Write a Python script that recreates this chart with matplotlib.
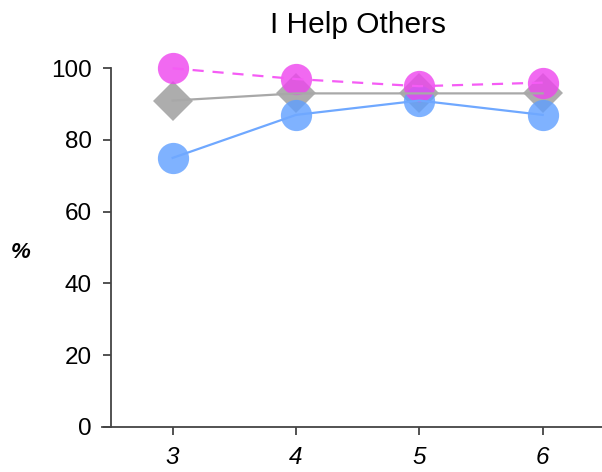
import matplotlib
matplotlib.use("Agg")
import matplotlib.pyplot as plt

grades = [3, 4, 5, 6]
pink_vals = [100, 97, 95, 96]
gray_vals = [91, 93, 93, 93]
blue_vals = [75, 87, 91, 87]
x_labels = ["3", "4", "5", "6"]
y_ticks = [0, 20, 40, 60, 80, 100]
title = "I Help Others"

plt.rcParams['font.family'] = ['Liberation Sans', 'DejaVu Sans']

W, H = 602, 472
fig = plt.figure(figsize=(W / 100, H / 100), dpi=100)
left, right = 102, 602
bottom, top = 426.7, 68.3
ax = fig.add_axes([left / W, 1 - bottom / H, (right - left) / W, (bottom - top) / H])

ax.set_xlim(2.427, 6.481)
ax.set_ylim(0, 100)

# markers
ax.plot(grades, gray_vals, linestyle='none', marker='D', markersize=20.5,
        color='#999999', alpha=0.8, markeredgewidth=0, clip_on=False, zorder=2)
ax.plot(grades, blue_vals, linestyle='none', marker='o', markersize=22.5,
        color='#5f9fff', alpha=0.8, markeredgewidth=0, clip_on=False, zorder=3)
ax.plot(grades, pink_vals, linestyle='none', marker='o', markersize=22.5,
        color='#ee44ee', alpha=0.8, markeredgewidth=0, clip_on=False, zorder=4)
# lines
ax.plot(grades, gray_vals, color='#a8a8a8', lw=1.6, clip_on=False, zorder=5)
ax.plot(grades, blue_vals, color='#6fa8ff', lw=1.6, clip_on=False, zorder=5)
ax.plot(grades, pink_vals, color='#f55cf5', lw=1.6, dashes=(5, 4), clip_on=False, zorder=5)

for s in ['top', 'right']:
    ax.spines[s].set_visible(False)
ax.spines['left'].set_position(('data', 2.5))
for s in ['left', 'bottom']:
    ax.spines[s].set_color('#444444')
    ax.spines[s].set_linewidth(1.3)

ax.set_xticks(grades)
ax.set_xticklabels(x_labels, fontsize=17.5, style='italic')
ax.set_yticks(y_ticks)
ax.set_yticklabels([str(v) for v in y_ticks], fontsize=17.5)
ax.tick_params(axis='both', colors='#444444', labelcolor='black', width=1.3, length=6)
ax.tick_params(axis='x', pad=8)
ax.tick_params(axis='y', pad=8)

fig.text(21 / W, 1 - 253 / H, "%", fontsize=16, style='italic', fontweight='bold',
         ha='center', va='center')
fig.text(358 / W, 1 - 25 / H, title, fontsize=21.5, ha='center', va='center')

fig.savefig("out.png", dpi=100)
